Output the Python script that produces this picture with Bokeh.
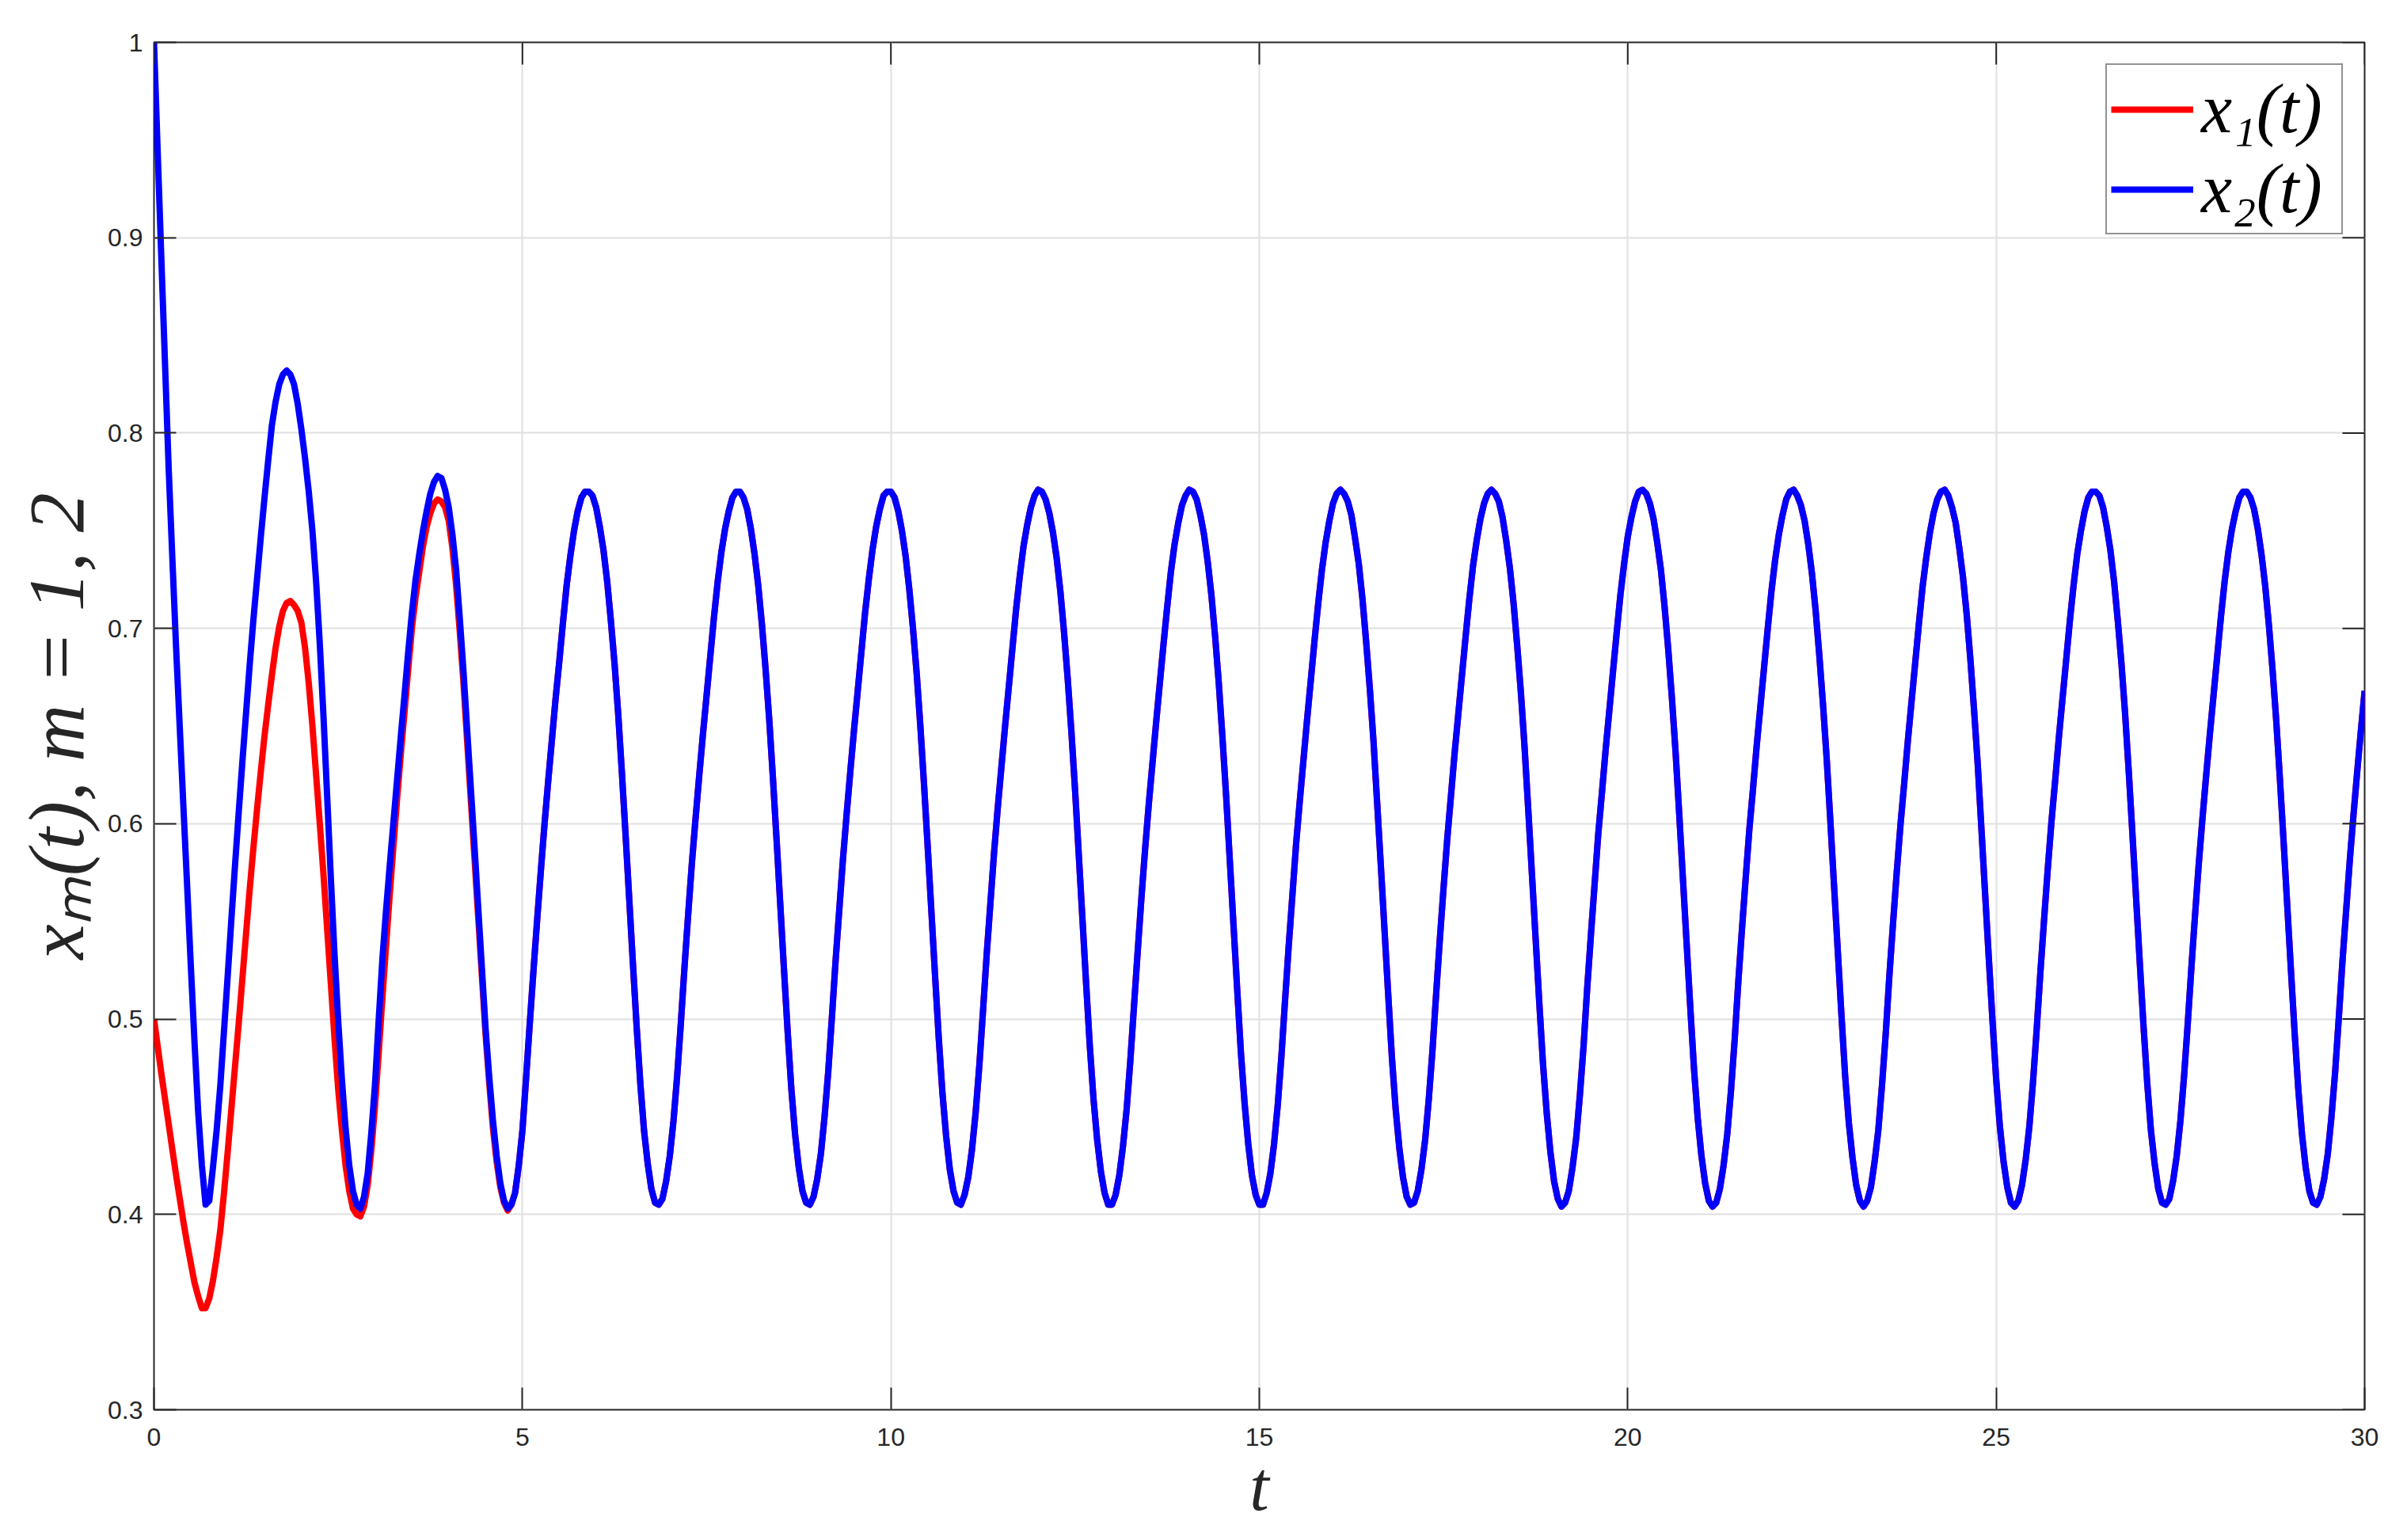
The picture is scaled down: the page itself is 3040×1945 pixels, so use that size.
from bokeh.plotting import figure
from bokeh.models import Range1d, FixedTicker
from bokeh.embed import file_html
from bokeh.resources import INLINE

# ---------------- data (samples every 0.05 in t) ----------------
# x2(t) transient part, t = 0.00 .. 5.85
x2_transient = [
    1.000, .944, .889, .835, .781, .735, .690, .649, .608, .568,
    .527, .488, .452, .425, .405, .407, .424, .443, .466, .494,
    .522, .551, .579, .606, .632, .657, .682, .705, .726, .747,
    .767, .786, .804, .816, .825, .830, .832, .830, .825, .815,
    .802, .787, .770, .750, .724, .692, .655, .614, .572, .533,
    .499, .469, .444, .425, .412, .405, .403, .409, .421, .442,
    .467, .500, .531, .556, .579, .601, .623, .645, .666, .688,
    .708, .725, .738, .750, .760, .769, .775, .778, .777, .771,
    .762, .748, .730, .705, .678, .648, .618, .588, .557, .526,
    .495, .470, .448, .430, .416, .407, .403, .405, .411, .425,
    .443, .470, .498, .525, .551, .576, .600, .622, .643, .664,
    .683, .703, .722, .737, .750, .760, .767, .770,
]

# x2(t) settled oscillation, t = 5.90 .. 30.00 (one row per cycle)
x2_steady = [
    .770, .768, .762, .752, .740, .724, .704, .682, .656, .626, .594, .561, .528, .496, .467, .443, .426, .413, .406, .405, .408,
    .417, .430, .448, .471, .498, .527, .554, .580, .603, .625, .646, .666, .686, .706, .724, .739, .751, .760, .767, .770,
    .770, .767, .761, .751, .738, .722, .702, .679, .653, .623, .591, .558, .525, .493, .464, .441, .424, .412, .406, .405, .409,
    .418, .431, .450, .473, .501, .530, .556, .582, .605, .627, .648, .668, .688, .708, .725, .740, .752, .761, .768, .770,
    .770, .767, .760, .750, .737, .720, .700, .677, .650, .620, .588, .555, .522, .490, .462, .440, .423, .412, .406, .405, .410,
    .419, .433, .452, .476, .504, .533, .559, .585, .608, .629, .650, .670, .690, .710, .727, .742, .753, .762, .768, .771,
    .770, .766, .759, .749, .736, .719, .698, .674, .647, .617, .584, .551, .518, .486, .459, .438, .422, .411, .405, .405, .410,
    .420, .435, .454, .479, .507, .535, .562, .587, .610, .631, .652, .672, .692, .711, .729, .743, .754, .763, .768, .771,
    .770, .766, .758, .748, .734, .717, .696, .672, .644, .614, .581, .548, .515, .483, .457, .436, .420, .410, .405, .405, .411,
    .421, .436, .456, .481, .510, .538, .564, .590, .612, .633, .654, .674, .694, .713, .730, .744, .755, .764, .769, .771,
    .769, .765, .758, .746, .733, .715, .693, .669, .642, .610, .578, .545, .512, .480, .454, .434, .419, .409, .405, .406, .412,
    .423, .438, .459, .484, .513, .541, .567, .592, .614, .636, .656, .676, .696, .715, .732, .745, .756, .764, .769, .771,
    .769, .765, .757, .745, .731, .713, .691, .667, .639, .607, .574, .541, .508, .477, .452, .432, .417, .408, .404, .406,
    .412, .424, .439, .461, .486, .516, .543, .569, .595, .616, .638, .658, .678, .698, .717, .733, .747, .757, .765, .770,
    .771, .769, .764, .756, .744, .730, .711, .689, .664, .636, .604, .571, .538, .505, .474, .449, .430, .416, .407, .404, .406,
    .413, .425, .441, .463, .489, .519, .546, .572, .597, .618, .640, .660, .680, .700, .719, .735, .748, .758, .766, .770,
    .771, .768, .763, .755, .743, .728, .709, .686, .661, .633, .601, .568, .535, .502, .471, .447, .429, .415, .407, .404, .407,
    .414, .427, .443, .466, .492, .522, .549, .575, .599, .620, .642, .662, .682, .702, .721, .736, .749, .759, .766, .770,
    .771, .768, .762, .754, .741, .726, .707, .684, .658, .630, .597, .564, .531, .499, .469, .445, .427, .414, .406, .404, .407,
    .415, .428, .445, .468, .495, .524, .551, .577, .601, .622, .644, .664, .684, .704, .722, .738, .750, .760, .767, .770,
    .770, .768, .762, .752, .740, .724, .704, .682, .656, .626, .594, .561, .528, .496, .467, .443, .426, .413, .406, .405, .408,
    .417, .430, .448, .471, .498, .527, .554, .580, .603, .625, .646, .666, .686, .706, .724, .739, .751, .760, .767, .770,
    .770, .767, .761, .751, .738, .722, .702, .679, .653, .623, .591, .558, .525, .493, .464, .441, .424, .412, .406, .405, .409,
    .418, .431, .450, .473, .501, .530, .556, .582, .605, .627, .648, .668,
]

# x1(t) differs from x2(t) only during the transient, t = 0.00 .. 4.80
x1_transient = [
    .500, .486, .472, .459, .446, .433, .420, .408, .396, .385,
    .375, .365, .358, .352, .352, .357, .366, .378, .392, .411,
    .432, .454, .476, .498, .521, .544, .567, .588, .608, .627,
    .645, .661, .676, .690, .701, .709, .713, .714, .712, .709,
    .703, .690, .672, .650, .625, .600, .574, .546, .518, .490,
    .464, .443, .425, .412, .403, .400, .399, .404, .415, .433,
    .456, .483, .511, .538, .564, .589, .613, .636, .657, .679,
    .700, .716, .729, .742, .752, .759, .764, .766, .765, .762,
    .755, .741, .722, .698, .672, .642, .612, .582, .552, .522,
    .492, .467, .444, .427, .414, .406, .402,
]

x2 = x2_transient + x2_steady
x1 = x1_transient + x2[len(x1_transient):]
t = [round(0.05 * i, 2) for i in range(len(x2))]

x_ticks = [0, 5, 10, 15, 20, 25, 30]
y_ticks = [0.3, 0.4, 0.5, 0.6, 0.7, 0.8, 0.9, 1]
y_tick_labels = ["0.3", "0.4", "0.5", "0.6", "0.7", "0.8", "0.9", "1"]
series_labels = ["x\u2081(t)", "x\u2082(t)"]
x_label = "t"
y_label = "x\u2098(t), m = 1, 2"

AX = "#262626"
GRID = "#dfdfdf"

p = figure(
    width=3040, height=1945,
    frame_width=2792, frame_height=1727,
    min_border_left=194, min_border_right=54,
    min_border_top=53, min_border_bottom=165,
    x_range=Range1d(0, 30), y_range=Range1d(0.3, 1.0),
    output_backend="svg", toolbar_location=None,
    background_fill_color="white", border_fill_color="white",
)
p.outline_line_color = AX
p.outline_line_width = 2

p.line(t, x1, line_color="#ff0000", line_width=8, line_join="round",
       legend_label=series_labels[0])
p.line(t, x2, line_color="#0000ff", line_width=8, line_join="round",
       legend_label=series_labels[1])

xt = FixedTicker(ticks=x_ticks)
yt = FixedTicker(ticks=y_ticks)

xa = p.xaxis[0]
ya = p.yaxis[0]
for ax, tk in ((xa, xt), (ya, yt)):
    ax.ticker = tk
    ax.axis_line_color = None
    ax.major_tick_line_color = AX
    ax.major_tick_line_width = 2
    ax.major_tick_in = 28
    ax.major_tick_out = 0
    ax.minor_tick_line_color = None
    ax.major_label_text_font = "Liberation Sans"
    ax.major_label_text_font_size = "32px"
    ax.major_label_text_color = AX
ya.major_label_overrides = {v: s for v, s in zip(y_ticks, y_tick_labels)}
xa.major_label_standoff = 23
ya.major_label_standoff = 14

for ax, lab, st, fs in ((xa, x_label, 0, "88px"), (ya, y_label, 6, "100px")):
    ax.axis_label = lab
    ax.axis_label_text_font = "Liberation Serif"
    ax.axis_label_text_font_style = "italic"
    ax.axis_label_text_font_size = fs
    ax.axis_label_text_color = AX
    ax.axis_label_standoff = st

# inward tick marks on the top and right edges of the box (clipped to the frame)
p.scatter(x=x_ticks, y=[y_ticks[-1]] * len(x_ticks), marker="dash", size=56,
          angle=1.5707963, line_color=AX, line_width=2)
p.scatter(x=[x_ticks[-1]] * len(y_ticks), y=y_ticks, marker="dash", size=56,
          line_color=AX, line_width=2)

p.xgrid.grid_line_color = GRID
p.xgrid.grid_line_width = 2
p.ygrid.grid_line_color = GRID
p.ygrid.grid_line_width = 2
p.xgrid.ticker = xt
p.ygrid.ticker = yt

lg = p.legend[0]
lg.location = "top_right"
lg.margin = 27
lg.padding = 5
lg.spacing = 0
lg.glyph_width = 104
lg.glyph_height = 94
lg.label_height = 94
lg.label_width = 172
lg.label_standoff = 10
lg.border_line_color = AX
lg.border_line_width = 2
lg.background_fill_color = "white"
lg.background_fill_alpha = 1.0
lg.label_text_font = "Liberation Serif"
lg.label_text_font_style = "italic"
lg.label_text_font_size = "88px"
lg.label_text_color = "#000000"

open("out.html", "w").write(file_html(p, INLINE))
